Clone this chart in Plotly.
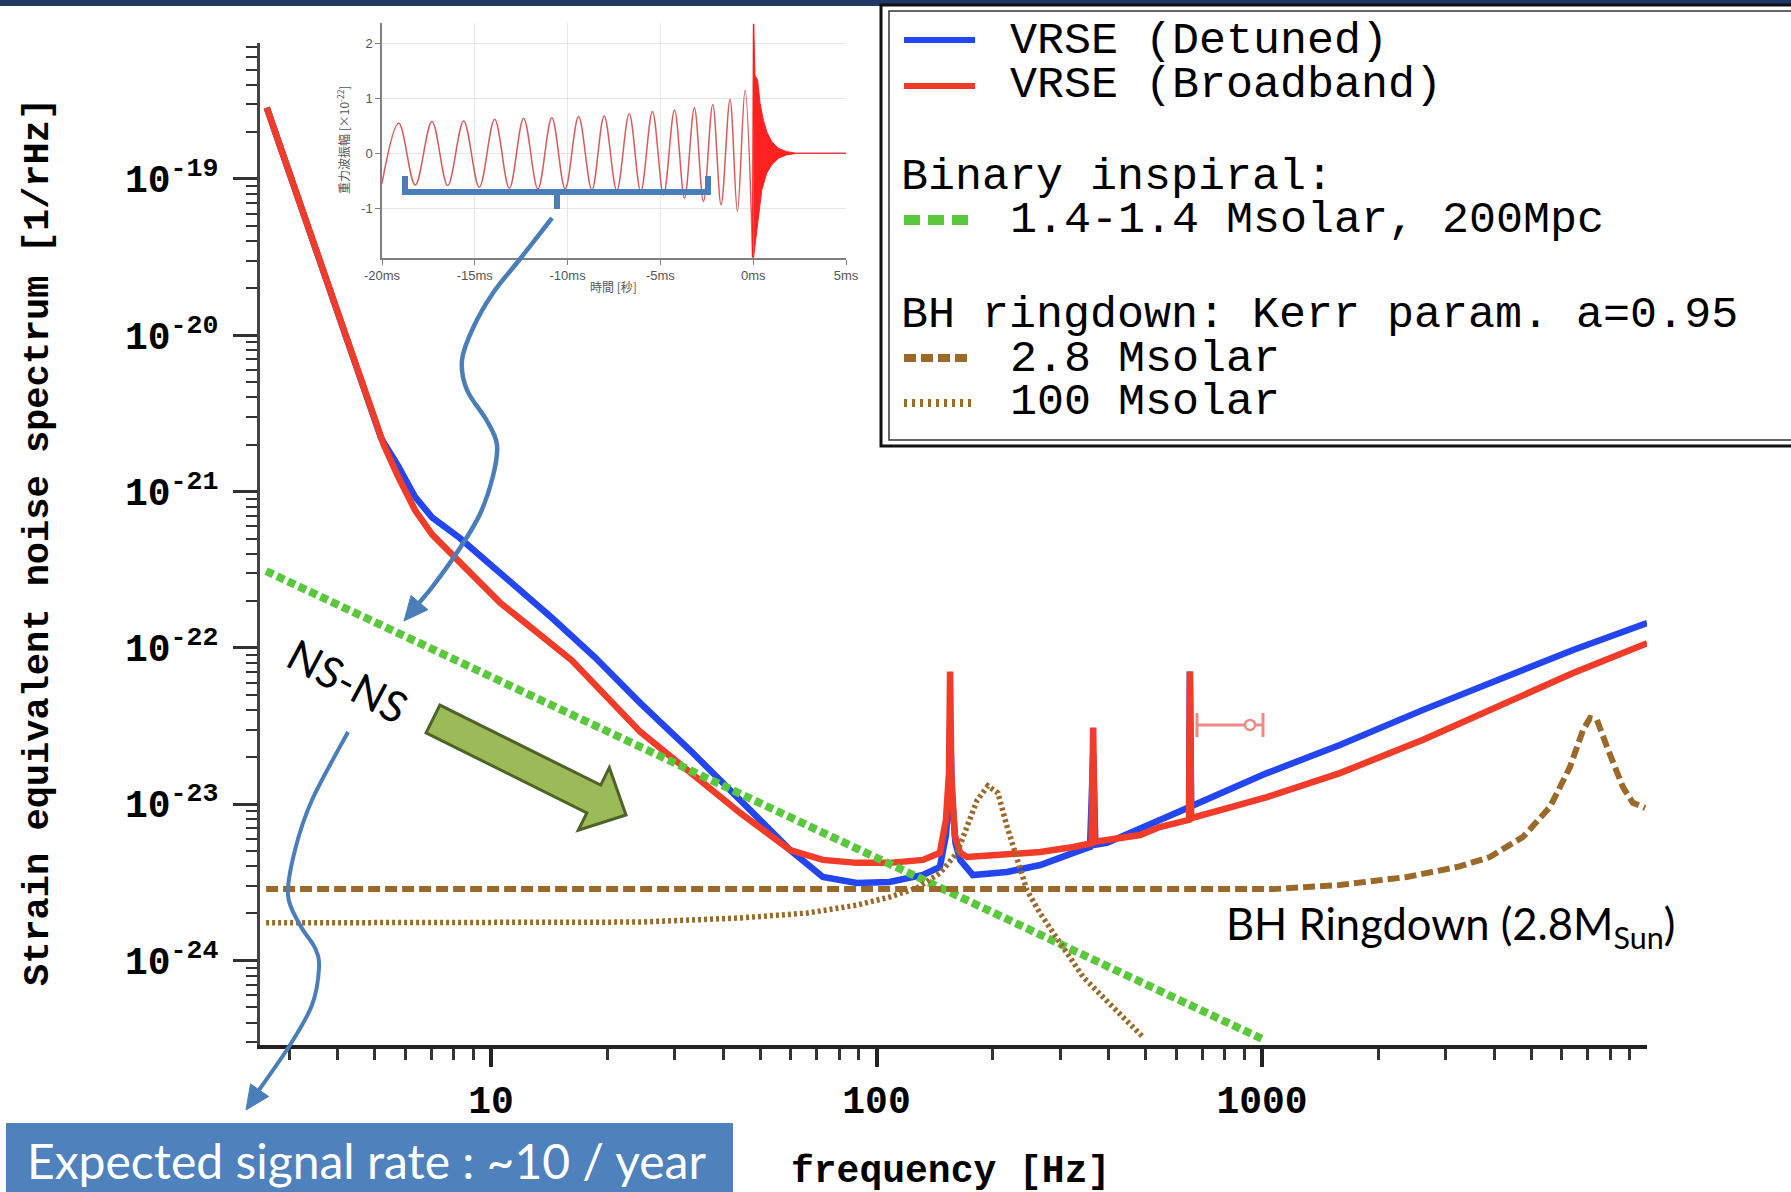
import math
import plotly.graph_objects as go

# ---------------- data ----------------
# VRSE (Broadband) noise curve  [Hz], [1/rtHz]
red_f = [2.62, 4.67, 4.96, 5.27, 5.73, 6.35, 7.03, 7.96, 9.40, 10.6, 12.0, 16.2, 24.4, 32.8, 44.3,
         59.7, 72.6, 88.9, 108, 132, 146, 151.4, 154.2, 155.2, 156.3, 159.6, 164.8, 171.8, 218, 266,
         324, 361.4, 364.8, 368.1, 396, 483, 543, 647, 650, 655, 1030, 1592, 2618, 4325, 6412, 9977]
red_h = [2.86e-19, 4.48e-21, 2.98e-21, 1.99e-21, 1.26e-21, 7.62e-22, 5.32e-22, 3.92e-22, 2.61e-22,
         1.93e-22, 1.51e-22, 8.32e-23, 2.90e-23, 1.58e-23, 8.79e-24, 5.09e-24, 4.40e-24, 4.21e-24,
         4.21e-24, 4.40e-24, 4.88e-24, 7.94e-24, 1.58e-23, 7.05e-23, 1.58e-23, 6.31e-24, 4.88e-24,
         4.59e-24, 4.73e-24, 4.94e-24, 5.32e-24, 5.62e-24, 3.09e-23, 5.75e-24, 5.90e-24, 6.35e-24,
         7.14e-24, 7.94e-24, 7.05e-23, 8.13e-24, 1.11e-23, 1.58e-23, 2.58e-23, 4.44e-23, 6.90e-23,
         1.07e-22]

# VRSE (Detuned) noise curve
blue_f = [2.62, 4.67, 4.96, 5.19, 5.73, 6.35, 7.03, 8.30, 9.57, 11.3, 14.5, 18.6, 24.4, 32.8, 44.3,
          59.7, 72.6, 88.9, 108, 132, 146, 151.4, 154.2, 155.2, 157.0, 160.3, 164.8, 177.8, 218, 266,
          324, 358, 364.8, 369.8, 396, 483, 543, 647, 650, 655, 1030, 1592, 2618, 4325, 6412, 9977]
blue_h = [2.86e-19, 4.48e-21, 2.98e-21, 2.19e-21, 1.47e-21, 9.27e-22, 6.84e-22, 5.05e-22, 3.72e-22,
          2.61e-22, 1.53e-22, 8.71e-23, 4.43e-23, 2.22e-23, 1.06e-23, 5.09e-24, 3.42e-24, 3.13e-24,
          3.18e-24, 3.52e-24, 3.96e-24, 6.31e-24, 1.12e-23, 3.16e-23, 1.12e-23, 5.62e-24, 4.40e-24,
          3.52e-24, 3.68e-24, 4.08e-24, 4.88e-24, 5.32e-24, 2.07e-23, 5.50e-24, 5.65e-24, 7.05e-24,
          7.93e-24, 9.55e-24, 7.05e-23, 9.70e-24, 1.58e-23, 2.39e-23, 4.01e-23, 6.52e-23, 9.70e-23,
          1.44e-22]

# Binary inspiral 1.4-1.4 Msolar, 200 Mpc
ns_f = [2.61, 100, 1000]
ns_h = [3.10e-22, 4.5e-24, 3.15e-25]

# BH ringdown 2.8 Msolar
bh28_f = [2.61, 1069, 1592, 2377, 3206, 3899, 4753, 5585, 6295, 6808, 7096, 7396, 7852, 8630, 9162, 9863]
bh28_h = [2.86e-24, 2.86e-24, 3.04e-24, 3.42e-24, 3.96e-24, 4.59e-24, 6.17e-24, 9.59e-24, 1.73e-23,
          2.99e-23, 3.56e-23, 3.46e-23, 2.32e-23, 1.29e-23, 1.02e-23, 9.46e-24]

# BH ringdown 100 Msolar
bh100_f = [2.61, 24.4, 44.3, 66.1, 88.9, 108.4, 127.4, 146.2, 161.8, 171.8, 182.4, 194.5, 206.5, 218.3,
           231.2, 245.5, 265.5, 299.2, 343.6, 410.2, 490.9]
bh100_h = [1.74e-24, 1.76e-24, 1.87e-24, 2.01e-24, 2.26e-24, 2.55e-24, 2.91e-24, 3.63e-24, 4.88e-24,
           7.14e-24, 1.06e-23, 1.31e-23, 1.18e-23, 7.14e-24, 4.40e-24, 2.82e-24, 2.01e-24, 1.29e-24,
           7.83e-25, 5.04e-25, 3.24e-25]

# tick labels
x_tick_vals = [10, 100, 1000]
x_tick_text = ["10", "100", "1000"]
y_tick_vals = [1e-24, 1e-23, 1e-22, 1e-21, 1e-20, 1e-19]
y_tick_text = ["10<sup>-24</sup>", "10<sup>-23</sup>", "10<sup>-22</sup>",
               "10<sup>-21</sup>", "10<sup>-20</sup>", "10<sup>-19</sup>"]

# inset waveform: chirp extrema  [ms], [x1e-22]
chirp_t = [-20.0, -19.10, -18.21, -17.31, -16.46, -15.60, -14.76, -13.93, -13.14, -12.37, -11.60,
           -10.85, -10.13, -9.41, -8.69, -8.03, -7.35, -6.68, -6.06, -5.43, -4.83, -4.24, -3.70,
           -3.17, -2.68, -2.18, -1.73, -1.25, -0.85, -0.44, -0.03]
chirp_h = [-0.55, 0.55, -0.58, 0.58, -0.59, 0.59, -0.62, 0.62, -0.64, 0.64, -0.65, 0.65, -0.65, 0.67,
           -0.67, 0.68, -0.68, 0.72, -0.70, 0.76, -0.76, 0.79, -0.82, 0.83, -0.88, 0.89, -0.94, 0.98,
           -1.06, 1.15, -1.90]
merge_t = [-0.03, 0.02]
merge_h = [-1.90, 2.36]
ring_t = [0.02, 0.06, 0.10, 0.24, 0.37, 0.55, 0.73, 1.00, 1.36, 1.80, 2.34,
          1.80, 1.36, 1.00, 0.73, 0.46, 0.28, 0.10, 0.02]
ring_h = [2.36, 1.45, 1.42, 1.33, 0.91, 0.60, 0.39, 0.21, 0.09, 0.03, 0.0,
          -0.03, -0.09, -0.21, -0.36, -0.67, -1.15, -1.58, -1.90]
tail_t = [2.34, 5.0]
tail_h = [0.0, 0.0]
inset_x_vals = [-20, -15, -10, -5, 0, 5]
inset_x_text = ["-20ms", "-15ms", "-10ms", "-5ms", "0ms", "5ms"]
inset_y_vals = [-1, 0, 1, 2]
inset_y_text = ["-1", "0", "1", "2"]

# ---------------- geometry helpers ----------------
W, H = 1791, 1192
L, R, T, B = 260, 144, 10, 147
PW, PH = W - L - R, H - T - B


def PX(x):
    return (x - L) / PW


def PY(y):
    return (H - B - y) / PH


def smooth_path(pts):
    s = "M %.5f,%.5f" % (PX(pts[0][0]), PY(pts[0][1]))
    n = len(pts)
    for i in range(n - 1):
        p0 = pts[i - 1] if i > 0 else pts[i]
        p1, p2 = pts[i], pts[i + 1]
        p3 = pts[i + 2] if i + 2 < n else pts[i + 1]
        c1 = (p1[0] + (p2[0] - p0[0]) / 6, p1[1] + (p2[1] - p0[1]) / 6)
        c2 = (p2[0] - (p3[0] - p1[0]) / 6, p2[1] - (p3[1] - p1[1]) / 6)
        s += " C %.5f,%.5f %.5f,%.5f %.5f,%.5f" % (PX(c1[0]), PY(c1[1]), PX(c2[0]), PY(c2[1]),
                                                   PX(p2[0]), PY(p2[1]))
    return s


def poly_path(pts):
    return "M " + " L ".join("%.5f,%.5f" % (PX(x), PY(y)) for x, y in pts) + " Z"


def arrow_head(prev, tip, length=24, half=11):
    dx, dy = tip[0] - prev[0], tip[1] - prev[1]
    d = math.hypot(dx, dy)
    ux, uy = dx / d, dy / d
    bx, by = tip[0] - ux * length, tip[1] - uy * length
    return poly_path([(bx - uy * half, by + ux * half), tip, (bx + uy * half, by - ux * half)])


BLUE = "#2346f0"
RED = "#f03c28"
GREEN = "#5ac83c"
BROWN = "#9b6a2a"
ANN = "#4a7ebb"
MONO = "Liberation Mono"

fig = go.Figure()

# main curves
fig.add_trace(go.Scatter(x=blue_f, y=blue_h, mode="lines", line=dict(color=BLUE, width=6.5)))
fig.add_trace(go.Scatter(x=red_f, y=red_h, mode="lines", line=dict(color=RED, width=6.5)))
fig.add_trace(go.Scatter(x=ns_f, y=ns_h, mode="lines", line=dict(color=GREEN, width=8, dash="8px,4px")))
fig.add_trace(go.Scatter(x=bh28_f, y=bh28_h, mode="lines", line=dict(color=BROWN, width=6, dash="12px,5px")))
fig.add_trace(go.Scatter(x=bh100_f, y=bh100_h, mode="lines", line=dict(color=BROWN, width=5.5, dash="3px,3px")))

# inset waveform
fig.add_trace(go.Scatter(x=chirp_t, y=chirp_h, mode="lines", xaxis="x2", yaxis="y2",
                         line=dict(color="#d45c5c", width=1.5, shape="spline", smoothing=1.0)))
fig.add_trace(go.Scatter(x=merge_t, y=merge_h, mode="lines", xaxis="x2", yaxis="y2",
                         line=dict(color="#ff1a1a", width=1.5)))
fig.add_trace(go.Scatter(x=ring_t, y=ring_h, mode="lines", xaxis="x2", yaxis="y2", fill="toself",
                         fillcolor="#ff2020", line=dict(color="#ff2020", width=1)))
fig.add_trace(go.Scatter(x=tail_t, y=tail_h, mode="lines", xaxis="x2", yaxis="y2",
                         line=dict(color="#e04040", width=1.5)))

# minor ticks
x_minor = [m * 10 ** d for d in range(0, 4) for m in range(2, 10) if 2.52 <= m * 10 ** d <= 9970]
y_minor = [m * 10.0 ** d for d in range(-25, -18) for m in range(2, 10)
           if 10 ** -24.54 <= m * 10.0 ** d <= 10 ** -18.13]

shapes = []
annotations = []

# top navy bar
shapes.append(dict(type="rect", xref="paper", yref="paper", x0=PX(0), x1=PX(W), y0=PY(6), y1=PY(-5),
                   fillcolor="#1f3864", line=dict(width=0), layer="above"))

# legend box (double border)
shapes.append(dict(type="rect", xref="paper", yref="paper", x0=PX(881), x1=PX(1810), y0=PY(446), y1=PY(5),
                   fillcolor="white", line=dict(color="#111", width=3), layer="above"))
shapes.append(dict(type="rect", xref="paper", yref="paper", x0=PX(889), x1=PX(1810), y0=PY(440), y1=PY(11),
                   line=dict(color="#333", width=1.5), layer="above"))
leg_samples = [
    (40, 975, BLUE, 6, None),
    (86, 975, RED, 6, None),
    (220, 968, GREEN, 10, "16px,8px"),
    (358, 968, BROWN, 8, "12px,5px"),
    (403, 976, BROWN, 8, "3px,5px"),
]
for yy, xe, col, wd, dsh in leg_samples:
    ln = dict(color=col, width=wd)
    if dsh:
        ln["dash"] = dsh
    shapes.append(dict(type="line", xref="paper", yref="paper", x0=PX(904), x1=PX(xe), y0=PY(yy), y1=PY(yy),
                       line=ln, layer="above"))
leg_texts = [
    (1008, 42, "VRSE (Detuned)"),
    (1008, 86, "VRSE (Broadband)"),
    (899, 177, "Binary inspiral:"),
    (1008, 220, "1.4-1.4 Msolar, 200Mpc"),
    (899, 315, "BH ringdown: Kerr param. a=0.95"),
    (1008, 360, "2.8 Msolar"),
    (1008, 403, "100 Msolar"),
]
for xx, yy, tx in leg_texts:
    annotations.append(dict(xref="paper", yref="paper", x=PX(xx), y=PY(yy), text=tx, showarrow=False,
                            xanchor="left", yanchor="middle",
                            font=dict(family=MONO, size=45, color="black")))

# axis titles
annotations.append(dict(xref="paper", yref="paper", x=PX(38), y=PY(542), textangle=-90, showarrow=False,
                        text="Strain equivalent noise spectrum [1/rHz]", xanchor="center", yanchor="middle",
                        font=dict(family=MONO, size=37, color="black", weight="bold")))
annotations.append(dict(xref="paper", yref="paper", x=PX(950), y=PY(1171), showarrow=False,
                        text="frequency [Hz]", xanchor="center", yanchor="middle",
                        font=dict(family=MONO, size=38, color="black", weight="bold")))

# inset axis titles
annotations.append(dict(xref="paper", yref="paper", x=PX(343), y=PY(140), textangle=-90, showarrow=False,
                        text="重力波振幅 [×10<sup>-22</sup>]", xanchor="center", yanchor="middle",
                        font=dict(family="Noto Sans CJK JP", size=12, color="#555")))
annotations.append(dict(xref="paper", yref="paper", x=PX(613), y=PY(286), showarrow=False,
                        text="時間 [秒]", xanchor="center", yanchor="middle",
                        font=dict(family="Noto Sans CJK JP", size=12, color="#555")))

# brace under the chirp
shapes.append(dict(type="path", xref="paper", yref="paper",
                   path="M %f,%f L %f,%f L %f,%f L %f,%f M %f,%f L %f,%f" % (
                       PX(405), PY(176), PX(405), PY(192), PX(708), PY(192), PX(708), PY(176),
                       PX(557), PY(192), PX(557), PY(209)),
                   line=dict(color=ANN, width=6), layer="above"))

# curved arrow from brace to NS-NS line
arrow1 = [(552, 218), (520, 259), (493, 293), (473, 328), (462, 360), (467, 390), (487, 421),
          (497, 445), (493, 476), (480, 514), (460, 548), (433, 586), (412, 611)]
shapes.append(dict(type="path", xref="paper", yref="paper", path=smooth_path(arrow1),
                   line=dict(color=ANN, width=4.5), layer="above"))
shapes.append(dict(type="path", xref="paper", yref="paper", path=arrow_head((430, 590), (404, 621)),
                   fillcolor=ANN, line=dict(color=ANN, width=1), layer="above"))

# curved arrow from NS-NS to the rate box
arrow2 = [(348, 732), (312, 800), (295, 850), (288, 895), (300, 925), (315, 948), (319, 968),
          (312, 1005), (290, 1045), (252, 1100)]
shapes.append(dict(type="path", xref="paper", yref="paper", path=smooth_path(arrow2),
                   line=dict(color=ANN, width=4), layer="above"))
shapes.append(dict(type="path", xref="paper", yref="paper", path=arrow_head((270, 1075), (246, 1110)),
                   fillcolor=ANN, line=dict(color=ANN, width=1), layer="above"))

# green block arrow
tail, tip = (433, 719), (626, 815)
dx, dy = tip[0] - tail[0], tip[1] - tail[1]
dl = math.hypot(dx, dy)
ux, uy = dx / dl, dy / dl
nx, ny = -uy, ux
hw, hh, hl = 15.5, 35, 36
bx, by = tip[0] - ux * hl, tip[1] - uy * hl
garrow = [(tail[0] + nx * hw, tail[1] + ny * hw), (bx + nx * hw, by + ny * hw), (bx + nx * hh, by + ny * hh),
          tip, (bx - nx * hh, by - ny * hh), (bx - nx * hw, by - ny * hw), (tail[0] - nx * hw, tail[1] - ny * hw)]
shapes.append(dict(type="path", xref="paper", yref="paper", path=poly_path(garrow),
                   fillcolor="#9bbb59", line=dict(color="#4f6228", width=3), layer="above"))

# small pink marker near the 650 Hz line
PINK = "#f08a80"
shapes.append(dict(type="line", xref="paper", yref="paper", x0=PX(1197), x1=PX(1263), y0=PY(725), y1=PY(725),
                   line=dict(color=PINK, width=3), layer="above"))
shapes.append(dict(type="line", xref="paper", yref="paper", x0=PX(1263), x1=PX(1263), y0=PY(713), y1=PY(737),
                   line=dict(color=PINK, width=3), layer="above"))
shapes.append(dict(type="line", xref="paper", yref="paper", x0=PX(1197), x1=PX(1197), y0=PY(713), y1=PY(737),
                   line=dict(color=PINK, width=3), layer="above"))
shapes.append(dict(type="circle", xref="paper", yref="paper", x0=PX(1245), x1=PX(1255), y0=PY(730), y1=PY(720),
                   line=dict(color=PINK, width=2.5), fillcolor="white", layer="above"))

# NS-NS label
annotations.append(dict(xref="paper", yref="paper", x=PX(348), y=PY(680), text="NS-NS", textangle=28,
                        showarrow=False, xanchor="center", yanchor="middle",
                        font=dict(family="Lato", size=43, color="black")))
# BH ringdown label
annotations.append(dict(xref="paper", yref="paper", x=PX(1224), y=PY(926),
                        text="BH Ringdown (2.8M<sub>Sun</sub>)", showarrow=False,
                        xanchor="left", yanchor="middle", font=dict(family="Lato", size=43.5, color="black")))
# expected rate box
shapes.append(dict(type="rect", xref="paper", yref="paper", x0=PX(6), x1=PX(733), y0=PY(1200), y1=PY(1123),
                   fillcolor="#4f81bd", line=dict(width=0), layer="above"))
annotations.append(dict(xref="paper", yref="paper", x=PX(366), y=PY(1160),
                        text="Expected signal rate : ~10 / year", showarrow=False,
                        xanchor="center", yanchor="middle", font=dict(family="Lato", size=48, color="white")))

fig.update_layout(
    template="none",
    width=W, height=H,
    margin=dict(l=L, r=R, t=T, b=B, pad=0),
    paper_bgcolor="white", plot_bgcolor="rgba(0,0,0,0)",
    showlegend=False,
    shapes=shapes,
    annotations=annotations,
    xaxis=dict(type="log", range=[0.4008, 3.9987], domain=[0, 1], anchor="y", automargin=False,
               showgrid=False, zeroline=False, showline=True, linecolor="#222", linewidth=4,
               ticks="outside", ticklen=18, tickwidth=4, tickcolor="#222",
               tickmode="array", tickvals=x_tick_vals, ticktext=x_tick_text, ticklabelstandoff=0,
               tickfont=dict(family=MONO, size=38, color="black", weight="bold"),
               minor=dict(tickmode="array", tickvals=x_minor, ticks="outside", ticklen=11,
                          tickwidth=2.5, tickcolor="#333", showgrid=False)),
    yaxis=dict(type="log", range=[-24.541, -18.130], domain=[0, PY(43)], anchor="x", automargin=False,
               showgrid=False, zeroline=False, showline=True, linecolor="#444", linewidth=3,
               ticks="outside", ticklen=24, tickwidth=3, tickcolor="#333",
               tickmode="array", tickvals=y_tick_vals, ticktext=y_tick_text, ticklabelstandoff=7,
               tickfont=dict(family=MONO, size=38, color="black", weight="bold"),
               minor=dict(tickmode="array", tickvals=y_minor, ticks="outside", ticklen=11,
                          tickwidth=2, tickcolor="#333", showgrid=False)),
    xaxis2=dict(domain=[PX(382), PX(846)], anchor="y2", range=[-20, 5], automargin=False,
                showgrid=True, gridcolor="#e6e6e6", gridwidth=1, zeroline=False,
                showline=True, linecolor="#808080", linewidth=1.5, ticks="outside", ticklen=5,
                tickcolor="#808080", tickmode="array", tickvals=inset_x_vals, ticktext=inset_x_text,
                tickfont=dict(family="Liberation Sans", size=13, color="#555")),
    yaxis2=dict(domain=[PY(258), PY(23)], anchor="x2", range=[-1.91, 2.376], automargin=False,
                showgrid=True, gridcolor="#e6e6e6", gridwidth=1, zeroline=False,
                showline=True, linecolor="#808080", linewidth=1.5, ticks="outside", ticklen=5,
                tickcolor="#808080", tickmode="array", tickvals=inset_y_vals, ticktext=inset_y_text,
                tickfont=dict(family="Liberation Sans", size=13, color="#555")),
)

fig.write_html("out.html")
